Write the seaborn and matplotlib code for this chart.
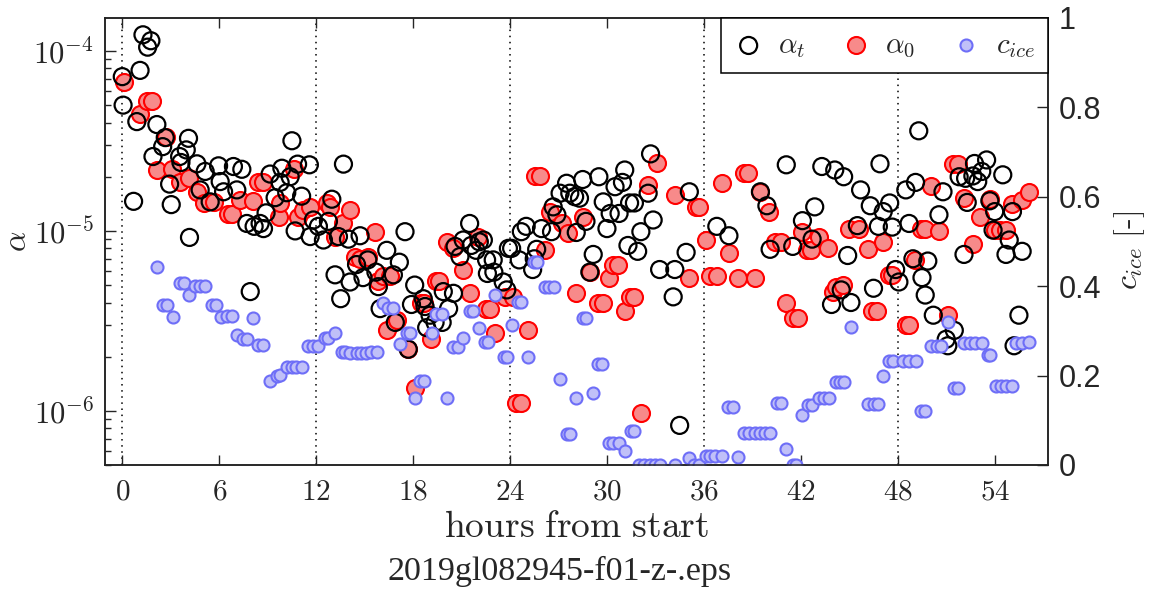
import numpy as np
import pandas as pd
import seaborn as sns
from matplotlib import pyplot as plt
from matplotlib.ticker import FixedLocator, LogLocator, NullFormatter, FuncFormatter

# alpha_t (black open circles): hours from start, value in units of 1e-5
t_hours = [0.0, 0.05, 0.7, 0.9, 1.1, 1.28, 1.57, 1.77, 1.9, 2.14,
           2.5, 2.66, 2.93, 3.03, 3.55, 3.63, 3.96, 4.1, 4.16, 4.62,
           4.82, 5.13, 5.44, 5.96, 6.06, 6.27, 6.88, 7.09, 7.4, 7.71,
           7.92, 8.16, 8.53, 8.74, 8.9, 9.15, 9.46, 9.77, 9.88, 10.18,
           10.39, 10.5, 10.7, 10.85, 11.1, 11.58, 11.63, 11.83, 12.14, 12.45,
           12.76, 12.97, 13.17, 13.38, 13.52, 13.69, 14.0, 14.1, 14.5, 14.72,
           14.9, 15.2, 15.7, 15.85, 15.96, 16.37, 16.78, 16.9, 17.15, 17.5,
           17.7, 17.9, 18.1, 18.63, 18.74, 18.84, 19.05, 19.36, 19.8, 19.87,
           20.2, 20.5, 20.6, 20.9, 21.1, 21.5, 21.6, 21.9, 22.1, 22.35,
           22.55, 22.6, 22.96, 23.0, 23.58, 23.8, 23.9, 24.1, 24.57, 24.7,
           25.0, 25.4, 25.5, 25.65, 25.95, 26.57, 26.67, 26.9, 27.1, 27.5,
           27.7, 28.0, 28.1, 28.3, 28.5, 28.7, 28.94, 29.15, 29.5, 29.77,
           30.0, 30.2, 30.5, 30.75, 30.96, 31.1, 31.3, 31.4, 31.7, 31.9,
           32.1, 32.55, 32.7, 32.86, 33.26, 34.1, 34.2, 34.5, 34.9, 35.1,
           36.8, 37.55, 39.5, 39.9, 40.1, 41.1, 41.5, 42.1, 42.7, 42.86,
           43.3, 43.9, 44.1, 44.5, 44.65, 44.9, 45.1, 45.5, 45.7, 46.3,
           46.5, 46.8, 46.9, 47.1, 47.5, 47.66, 47.87, 48.07, 48.5, 48.7,
           48.94, 49.1, 49.3, 49.5, 49.7, 49.86, 50.2, 50.55, 50.8, 51.0,
           51.1, 51.5, 51.8, 52.1, 52.2, 52.3, 52.65, 52.75, 52.95, 53.2,
           53.5, 53.7, 53.9, 54.0, 54.5, 54.7, 54.9, 55.1, 55.2, 55.5,
           55.7]
t_alpha = [7.2, 5.0, 1.46, 4.05, 7.8, 12.3, 10.5, 11.4, 2.59, 3.9,
           2.94, 3.3, 1.82, 1.40, 2.59, 2.4, 2.82, 3.27, 0.92, 2.36,
           1.69, 2.14, 1.45, 2.3, 1.88, 1.65, 2.28, 1.69, 2.2, 1.10,
           0.46, 1.06, 1.10, 1.03, 1.26, 2.07, 1.53, 1.86, 2.23, 1.63,
           2.0, 3.17, 1.0, 2.35, 1.56, 2.33, 0.93, 1.15, 1.06, 0.89,
           1.13, 1.50, 0.57, 0.93, 0.42, 2.35, 0.90, 0.52, 0.65, 0.94,
           0.55, 0.69, 0.59, 0.49, 0.37, 0.78, 0.57, 0.31, 0.67, 0.99,
           0.22, 0.39, 0.50, 0.42, 0.38, 0.29, 0.34, 0.31, 0.31, 0.46,
           0.37, 0.45, 0.82, 0.72, 0.89, 1.10, 0.83, 0.78, 0.87, 0.89,
           0.69, 0.58, 0.69, 0.59, 0.52, 0.47, 0.80, 0.80, 0.69, 0.99,
           1.06, 0.61, 0.70, 0.79, 1.03, 0.99, 1.36, 1.23, 1.62, 1.84,
           1.62, 1.55, 0.98, 1.52, 1.93, 1.13, 0.59, 0.74, 2.0, 1.45,
           1.03, 1.25, 1.76, 1.25, 1.86, 2.18, 0.83, 1.43, 1.43, 0.77,
           0.99, 1.62, 2.68, 1.15, 0.61, 0.43, 0.61, 0.083, 0.76, 1.65,
           1.06, 0.94, 1.65, 1.38, 0.79, 2.33, 0.82, 1.14, 0.90, 1.36,
           2.28, 0.39, 2.18, 0.47, 2.0, 0.73, 0.40, 1.07, 1.69, 1.38,
           0.48, 1.06, 2.36, 1.28, 1.43, 1.05, 0.61, 0.52, 1.69, 1.10,
           0.70, 1.86, 3.6, 0.55, 0.44, 0.68, 0.34, 1.23, 1.65, 0.25,
           0.23, 0.28, 2.0, 0.74, 1.96, 1.44, 2.02, 2.37, 1.88, 2.14,
           2.48, 1.47, 1.01, 1.28, 2.05, 0.74, 0.89, 1.28, 0.23, 0.34,
           0.77]

# alpha_0 (red filled circles): hours, value in units of 1e-5
z_hours = [0.08, 1.07, 1.53, 1.84, 2.14, 2.72, 3.07, 3.59, 4.1, 4.62,
           5.03, 5.65, 6.57, 6.78, 7.3, 8.12, 8.43, 8.74, 9.67, 9.77,
           10.6, 10.9, 11.2, 11.6, 12.66, 12.86, 13.17, 13.69, 14.1, 14.4,
           14.72, 15.2, 15.65, 15.85, 16.16, 16.4, 16.57, 16.99, 17.7, 18.1,
           18.5, 18.7, 19.1, 19.4, 19.6, 20.1, 20.5, 21.1, 21.5, 22.04,
           22.5, 22.76, 23.1, 23.7, 24.2, 24.4, 24.7, 25.1, 25.55, 25.85,
           26.15, 26.47, 27.2, 27.6, 28.1, 28.5, 28.94, 29.46, 29.77, 30.1,
           30.4, 30.7, 31.1, 31.4, 31.7, 32.1, 32.55, 33.07, 34.2, 35.1,
           35.5, 35.7, 36.1, 36.4, 36.8, 37.1, 37.55, 38.1, 38.5, 38.7,
           39.15, 39.5, 40.0, 40.4, 40.8, 41.1, 41.5, 41.8, 42.1, 42.4,
           42.6, 43.1, 43.7, 44.0, 44.2, 44.6, 45.0, 45.6, 46.15, 46.4,
           46.7, 47.1, 47.45, 47.66, 48.5, 48.7, 49.05, 49.45, 49.66, 50.07,
           50.55, 51.1, 51.4, 51.7, 52.1, 52.65, 53.1, 53.7, 54.0, 54.3,
           54.7, 55.1, 55.7, 56.15]
z_alpha = [6.75, 4.47, 5.3, 5.3, 2.18, 3.34, 2.2, 1.88, 1.98, 1.65,
           1.43, 1.44, 1.24, 1.24, 1.49, 1.47, 1.88, 1.88, 1.20, 1.43,
           2.2, 1.2, 1.31, 1.36, 1.43, 1.36, 0.93, 1.10, 1.31, 0.72,
           0.70, 0.72, 0.98, 0.53, 0.56, 0.28, 0.56, 0.32, 0.22, 0.134,
           0.40, 0.40, 0.25, 0.53, 0.53, 0.87, 0.80, 0.61, 0.45, 0.93,
           0.37, 0.37, 0.27, 0.43, 0.43, 0.11, 0.11, 0.28, 2.02, 2.02,
           0.78, 1.28, 1.11, 0.97, 0.45, 1.19, 0.59, 0.40, 0.40, 0.55,
           0.65, 0.65, 0.36, 0.43, 0.43, 0.097, 1.80, 2.37, 1.58, 0.55,
           1.36, 1.36, 0.89, 0.56, 0.56, 1.84, 0.75, 0.55, 2.1, 2.1,
           0.55, 1.65, 1.28, 0.87, 0.87, 0.40, 0.33, 0.33, 0.99, 0.78,
           0.78, 0.93, 0.80, 0.46, 0.49, 0.50, 1.03, 1.03, 0.79, 0.36,
           0.36, 0.87, 0.57, 0.57, 0.30, 0.30, 0.69, 1.03, 1.03, 1.78,
           1.00, 0.34, 2.36, 2.36, 1.52, 0.85, 1.20, 1.50, 1.01, 1.01,
           1.01, 1.41, 1.49, 1.65]

# c_ice (blue, right axis): hours, fraction
c_hours = [2.14, 2.5, 2.76, 3.13, 3.55, 3.8, 4.1, 4.52, 4.8, 5.15,
           5.55, 5.77, 6.1, 6.47, 6.78, 7.09, 7.46, 7.71, 8.12, 8.43,
           8.74, 9.15, 9.57, 9.77, 10.18, 10.5, 10.76, 11.1, 11.5, 11.8,
           12.1, 12.55, 12.76, 13.17, 13.6, 13.8, 14.1, 14.5, 14.8, 15.1,
           15.4, 15.75, 16.16, 16.47, 16.78, 17.2, 17.6, 17.8, 18.1, 18.4,
           18.7, 19.15, 19.4, 19.77, 20.1, 20.5, 20.8, 21.1, 21.5, 21.7,
           22.1, 22.45, 22.65, 23.1, 23.6, 23.8, 24.1, 24.5, 24.7, 25.1,
           25.5, 25.7, 26.15, 26.4, 26.7, 27.1, 27.5, 27.7, 28.1, 28.5,
           28.7, 29.15, 29.46, 29.7, 30.1, 30.4, 30.75, 31.1, 31.5, 31.7,
           32.0, 32.3, 32.65, 32.95, 33.3, 34.2, 35.1, 35.4, 35.7, 36.1,
           36.4, 36.7, 37.1, 37.5, 37.8, 38.1, 38.5, 38.8, 39.15, 39.5,
           39.8, 40.1, 40.5, 40.8, 41.1, 41.5, 41.7, 42.1, 42.45, 42.7,
           43.1, 43.45, 43.75, 44.15, 44.45, 44.7, 45.1, 46.15, 46.5, 46.8,
           47.1, 47.45, 47.7, 48.3, 48.7, 49.15, 49.45, 49.7, 50.07, 50.4,
           50.7, 51.1, 51.5, 51.7, 52.1, 52.45, 52.8, 53.2, 53.6, 53.7,
           54.1, 54.4, 54.7, 55.1, 55.3, 55.7, 56.1]
c_ice = [0.442, 0.358, 0.358, 0.332, 0.408, 0.408, 0.380, 0.400, 0.400, 0.400,
         0.357, 0.357, 0.332, 0.333, 0.333, 0.291, 0.281, 0.281, 0.328, 0.268,
         0.268, 0.189, 0.199, 0.201, 0.220, 0.220, 0.220, 0.220, 0.267, 0.267,
         0.267, 0.283, 0.283, 0.296, 0.252, 0.252, 0.250, 0.250, 0.250, 0.250,
         0.252, 0.252, 0.363, 0.352, 0.352, 0.270, 0.296, 0.296, 0.151, 0.189,
         0.189, 0.296, 0.338, 0.338, 0.151, 0.265, 0.265, 0.283, 0.345, 0.345,
         0.306, 0.276, 0.276, 0.380, 0.242, 0.242, 0.313, 0.365, 0.365, 0.242,
         0.455, 0.455, 0.398, 0.398, 0.398, 0.192, 0.069, 0.069, 0.149, 0.328,
         0.328, 0.162, 0.226, 0.226, 0.049, 0.049, 0.049, 0.032, 0.075, 0.075,
         0.0, 0.0, 0.0, 0.0, 0.0, 0.0, 0.015, 0.0, 0.0, 0.02,
         0.02, 0.02, 0.02, 0.129, 0.129, 0.017, 0.071, 0.071, 0.071, 0.071,
         0.071, 0.071, 0.139, 0.139, 0.035, 0.0, 0.0, 0.112, 0.134, 0.134,
         0.149, 0.149, 0.149, 0.186, 0.186, 0.186, 0.309, 0.136, 0.136, 0.136,
         0.199, 0.233, 0.233, 0.233, 0.233, 0.233, 0.121, 0.121, 0.266, 0.266,
         0.266, 0.321, 0.172, 0.172, 0.272, 0.272, 0.272, 0.272, 0.246, 0.246,
         0.177, 0.177, 0.177, 0.177, 0.272, 0.272, 0.276]

x_ticks = [0, 6, 12, 18, 24, 30, 36, 42, 48, 54]
day_lines = [0, 12, 24, 36, 48]

df_t = pd.DataFrame({'hours': t_hours, 'alpha': np.array(t_alpha) * 1e-5})
df_0 = pd.DataFrame({'hours': z_hours, 'alpha': np.array(z_alpha) * 1e-5})
df_c = pd.DataFrame({'hours': c_hours, 'cice': c_ice})

sns.set_style("ticks")
plt.rcParams['font.family'] = ['Liberation Sans', 'DejaVu Sans']
plt.rcParams['mathtext.fontset'] = 'cm'
plt.rcParams['axes.linewidth'] = 1.1
plt.rcParams['axes.edgecolor'] = '#222222'

fig = plt.figure(figsize=(11.5, 5.92), dpi=100)
ax = fig.add_axes([105 / 1150, 1 - 465 / 592, 943 / 1150, 447 / 592])

for h in day_lines:
    ax.axvline(h, color='k', ls=(0, (1, 3)), lw=1.1, zorder=0)

sns.scatterplot(x='hours', y='alpha', data=df_0, ax=ax, s=150, marker='o',
                facecolor='#F78A8A', edgecolor='#FF0000', linewidth=1.5,
                label=r'$\alpha_0$', legend=False)
sns.scatterplot(x='hours', y='alpha', data=df_t, ax=ax, s=150, marker='o',
                facecolor='none', edgecolor='black', linewidth=1.6,
                label=r'$\alpha_t$', legend=False)

ax.set_yscale('log')
ax.set_xlim(-1.07, 57.3)
ax.set_ylim(5.0e-7, 1.525e-4)
ax.xaxis.set_major_locator(FixedLocator(x_ticks))
ax.set_xticklabels([f'${t}$' for t in x_ticks], fontsize=21)
ax.yaxis.set_major_locator(LogLocator(base=10, numticks=10))
ax.yaxis.set_minor_locator(LogLocator(base=10, subs=np.arange(2, 10), numticks=10))
ax.yaxis.set_minor_formatter(NullFormatter())
ax.yaxis.set_major_formatter(FuncFormatter(
    lambda v, p: r'$\mathsf{10^{%d}}$' % round(np.log10(v))))
ax.tick_params(axis='x', direction='in', top=True, length=7, width=1, pad=9)
ax.tick_params(axis='y', which='major', direction='in', right=False,
               length=8, width=1, labelsize=22, pad=8)
ax.tick_params(axis='y', which='minor', direction='in', right=False,
               length=4.5, width=1)
ax.set_xlabel(r'$\mathrm{hours\ from\ start}$', fontsize=27)
ax.xaxis.set_label_coords(0.5, -0.098)
ax.set_ylabel(r'$\alpha$', fontsize=23)
ax.yaxis.set_label_coords(-0.076, 0.5)

ax2 = ax.twinx()
sns.scatterplot(x='hours', y='cice', data=df_c, ax=ax2, s=75, marker='o',
                facecolor='#C0C0F8', edgecolor='#6E6EF7', linewidth=1.5,
                label=r'$c_{ice}$', legend=False)
ax2.set_ylim(0, 1)
ax2.set_yticks([0, 0.2, 0.4, 0.6, 0.8, 1])
ax2.set_yticklabels(['0', '0.2', '0.4', '0.6', '0.8', '1'])
ax2.tick_params(axis='y', direction='in', length=8, width=1, labelsize=22, pad=8)
ax2.set_ylabel(r'$c_{ice}\ \mathrm{[\text{-}]}$', fontsize=23)
ax2.yaxis.set_label_coords(1.068, 0.48)
ax2.set_xlim(-1.07, 57.3)

h1, l1 = ax.get_legend_handles_labels()
h2, l2 = ax2.get_legend_handles_labels()
handles = [h1[1], h1[0], h2[0]]
labels = [l1[1], l1[0], l2[0]]
leg = ax2.legend(handles, labels, loc='upper right', bbox_to_anchor=(1, 1),
                 borderaxespad=0, ncol=3, fontsize=21, frameon=True,
                 fancybox=False, framealpha=1, edgecolor='black',
                 handlelength=1.0, handletextpad=0.5, columnspacing=1.25,
                 borderpad=0.45)
leg.get_frame().set_linewidth(1.1)

fig.text(0.487, 0.035, '2019gl082945-f01-z-.eps', ha='center', va='center',
         fontsize=24.5, family=['Liberation Serif', 'DejaVu Serif'])

plt.savefig('out.png', dpi=100, facecolor='white')
